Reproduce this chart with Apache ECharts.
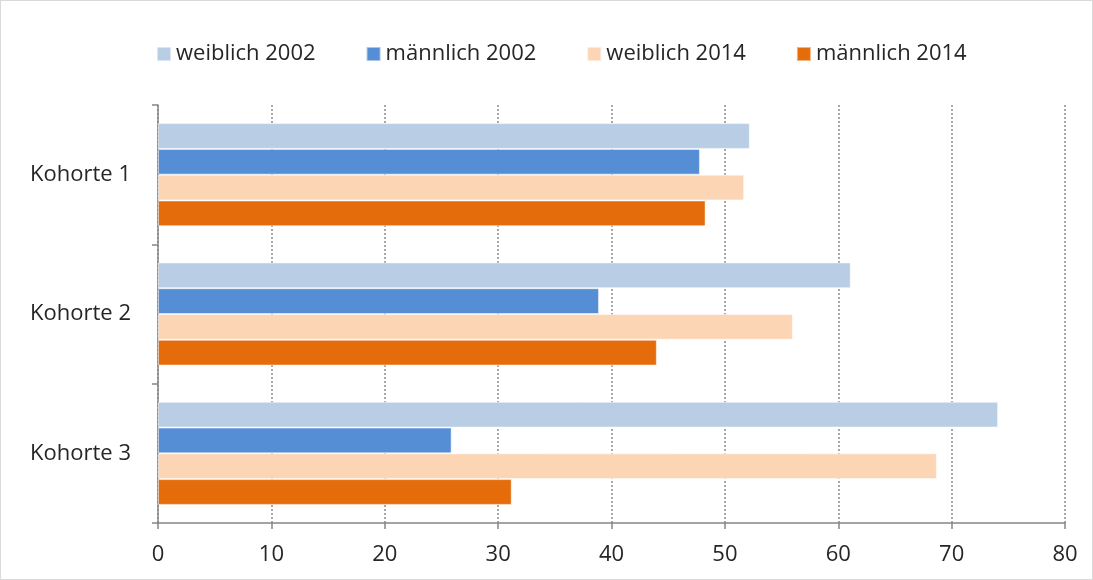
<!DOCTYPE html>
<html>
<head>
<meta charset="utf-8">
<script src="https://cdn.jsdelivr.net/npm/echarts@6/dist/echarts.min.js"></script>
<style>
  html, body { margin: 0; padding: 0; background: #fff; }
  #chart { width: 1093px; height: 580px; box-sizing: border-box; border: 1px solid #d9d9d9; }
</style>
</head>
<body>
<div id="chart"></div>
<script>
// Daten
var kohorten = ['Kohorte 1', 'Kohorte 2', 'Kohorte 3'];
var weiblich2002 = [52.2, 61.1, 74.1];
var maennlich2002 = [47.8, 38.9, 25.9];
var weiblich2014 = [51.7, 56.0, 68.7];
var maennlich2014 = [48.3, 44.0, 31.2];

var chart = echarts.init(document.getElementById('chart'), null, { renderer: 'canvas' });
var font = '"Open Sans", "Noto Sans", sans-serif';

function bar(name, data, color) {
    return {
        name: name,
        type: 'bar',
        data: data,
        barGap: '0%',
        barCategoryGap: '26%',
        itemStyle: { color: color, borderColor: 'rgba(255,255,255,0.5)', borderWidth: 1 }
    };
}

var option = {
    animation: false,
    textStyle: { fontFamily: font },
    color: ['#b9cde5', '#558ed5', '#fcd5b5', '#e46c0a'],
    legend: {
        top: 37,
        left: 150,
        itemWidth: 14,
        itemHeight: 14,
        itemGap: 50,
        icon: 'rect',
        textStyle: { fontSize: 22, color: '#262626', fontFamily: font }
    },
    grid: { left: 157, right: 27, top: 104, bottom: 56, containLabel: false },
    xAxis: {
        type: 'value',
        min: 0,
        max: 80,
        interval: 10,
        axisLine: { show: true, lineStyle: { color: '#868686', width: 1.5 } },
        axisTick: { show: true, length: 6, lineStyle: { color: '#868686', width: 1.5 } },
        axisLabel: { fontSize: 22, color: '#262626', margin: 21 },
        splitLine: { show: true, lineStyle: { color: '#8c8c8c', type: [2, 2], width: 1.5 } }
    },
    yAxis: {
        type: 'category',
        data: kohorten,
        inverse: true,
        axisLine: { show: true, lineStyle: { color: '#868686', width: 1.5 } },
        axisTick: { show: true, length: 6, lineStyle: { color: '#868686', width: 1.5 } },
        axisLabel: { fontSize: 22, color: '#262626', margin: 27 }
    },
    series: [
        bar('weiblich 2002', weiblich2002, '#b9cde5'),
        bar('männlich 2002', maennlich2002, '#558ed5'),
        bar('weiblich 2014', weiblich2014, '#fcd5b5'),
        bar('männlich 2014', maennlich2014, '#e46c0a')
    ]
};

chart.setOption(option);
</script>
</body>
</html>
